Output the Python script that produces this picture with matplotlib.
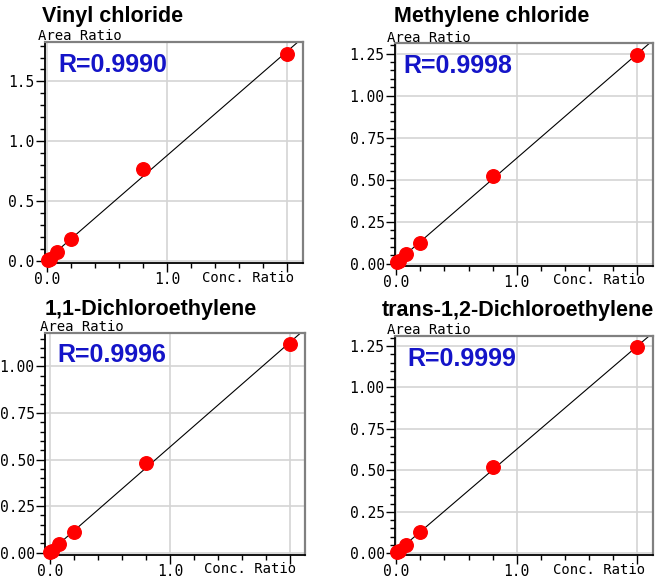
import numpy as np
import matplotlib
matplotlib.use("Agg")
import matplotlib.pyplot as plt
from matplotlib.ticker import MultipleLocator, FormatStrFormatter, FixedLocator, FixedFormatter

W, H = 659, 580

# Concentration ratio (common to all compounds)
conc = [0.005, 0.02, 0.08, 0.2, 0.8, 2.0]

# Area ratio per compound
names = ["Vinyl chloride", "Methylene chloride", "1,1-Dichloroethylene", "trans-1,2-Dichloroethylene"]
area_vc = [0.005, 0.015, 0.07, 0.18, 0.77, 1.73]
area_mc = [0.01, 0.015, 0.055, 0.125, 0.52, 1.243]
area_dce11 = [0.005, 0.009, 0.044, 0.112, 0.482, 1.12]
area_dce12 = [0.007, 0.014, 0.053, 0.128, 0.52, 1.243]
r_values = ["R=0.9990", "R=0.9998", "R=0.9996", "R=0.9999"]

areas = [area_vc, area_mc, area_dce11, area_dce12]

# axes boxes in pixels: left, top, right, bottom
boxes = [(45, 42, 303, 263), (395, 43, 653, 266), (45, 333, 305, 555), (395, 336, 653, 555)]
xlims = [(-0.02, 2.13), (-0.01, 2.13), (-0.04, 2.125), (-0.01, 2.13)]
ylims = [(-0.02, 1.83), (-0.014, 1.313), (-0.013, 1.18), (-0.01, 1.31)]
ymajor = [0.5, 0.25, 0.25, 0.25]
yminor = [0.1, 0.05, 0.05, 0.05]
yfmt = ["%.1f", "%.2f", "%.2f", "%.2f"]
# title, "Area Ratio", "Conc. Ratio", R text: (left, baseline) in pixels
title_pos = [(42, 22), (394, 22), (45, 315), (382, 316)]
area_pos = [(38, 40), (387, 42), (40, 331), (387, 334)]
conc_pos = [(202, 282), (553, 284), (204, 573), (553, 574)]
r_pos = [(58, 72), (403, 73), (57, 362), (407, 366)]

mono = "DejaVu Sans Mono"
sans = "Liberation Sans"

fig = plt.figure(figsize=(W / 100, H / 100), dpi=100)


def ftext(x, y, s, **kw):
    fig.text(x / W, 1 - y / H, s, va="baseline", ha="left", **kw)


for i in range(4):
    l, t, r, b = boxes[i]
    ax = fig.add_axes([l / W, 1 - b / H, (r - l) / W, (b - t) / H])
    ax.set_xlim(*xlims[i])
    ax.set_ylim(*ylims[i])

    ax.xaxis.set_major_locator(FixedLocator([0.0, 1.0, 2.0]))
    ax.xaxis.set_major_formatter(FixedFormatter(["0.0", "1.0", ""]))
    ax.xaxis.set_minor_locator(MultipleLocator(0.2))
    ax.yaxis.set_major_locator(MultipleLocator(ymajor[i]))
    ax.yaxis.set_minor_locator(MultipleLocator(yminor[i]))
    ax.yaxis.set_major_formatter(FormatStrFormatter(yfmt[i]))

    ax.tick_params(which="major", direction="out", length=6.5, width=1, pad=1,
                   labelsize=10.5, colors="black")
    ax.tick_params(axis="x", which="major", pad=0)
    ax.tick_params(which="minor", direction="out", length=3.3, width=1)
    for lab in ax.get_xticklabels() + ax.get_yticklabels():
        lab.set_fontfamily(mono)

    ax.grid(True, which="major", color="#d4d4d4", linewidth=1.2)
    ax.set_axisbelow(True)
    for side in ["left", "bottom"]:
        ax.spines[side].set_color("black")
        ax.spines[side].set_linewidth(1.3)
    for side in ["top", "right"]:
        ax.spines[side].set_color("#808080")
        ax.spines[side].set_linewidth(1.6)

    slope, icpt = np.polyfit(conc, areas[i], 1)
    ax.axline((0, icpt), slope=slope, color="black", linewidth=0.8, zorder=2)
    ax.scatter(conc, areas[i], s=95, color="#ff0000", zorder=3, clip_on=False)

    ftext(*title_pos[i], names[i], fontsize=15.5, fontweight="bold", family=sans)
    ftext(*area_pos[i], "Area Ratio", fontsize=10, family=mono)
    ftext(*conc_pos[i], "Conc. Ratio", fontsize=10, family=mono)
    ftext(*r_pos[i], r_values[i], fontsize=18, fontweight="bold", family=sans,
          color="#1414c8")

fig.savefig("out.png", dpi=100)
